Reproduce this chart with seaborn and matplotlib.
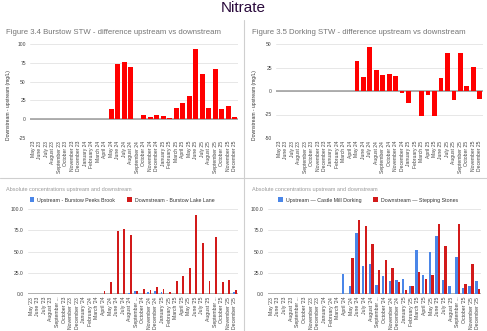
import numpy as np
import pandas as pd
import matplotlib
matplotlib.use("Agg")
import matplotlib.pyplot as plt
from matplotlib.lines import Line2D
from matplotlib.patches import Patch
import seaborn as sns

# ---- data -------------------------------------------------------------
months = [
    "May 23", "June 23", "July 23", "August 23", "September 23", "October 23",
    "November 23", "December 23", "January 24", "February 24", "March 24",
    "April 24", "May 24", "June 24", "July 24", "August 24", "September 24",
    "October 24", "November 24", "December 24", "January 25", "February 25",
    "March 25", "April 25", "May 25", "June 25", "July 25", "August 25",
    "September 25", "October 25", "November 25", "December 25",
]
# shortened tick labels used on the concentration panels
short_labels = [
    "May '23", "June '23", "July '23", "August '23", "September ...", "October '23",
    "November '23", "December '23", "January '24", "February '24", "March '24",
    "April '24", "May '24", "June '24", "July '24", "August '24", "September ...",
    "October '24", "November '24", "December '24", "January '25", "February '25",
    "March '25", "April '25", "May '25", "June '25", "July '25", "August '25",
    "September ...", "October '25", "November '25", "December '25",
]

NA = np.nan
no_data = [NA] * 12  # May '23 - April '24

# Burstow STW (mg/L)
burstow_diff = no_data + [14, 74, 76, 69, 0, 6, 2.5, 5, 4.5, 2,
                          15, 21, 30.5, 93, 59.5, 15.5, 66.5, 14, 17.5, 2.5]
burstow_up = [NA] * 12 + [0.5, 0.5, 0.5, 1.0, 3.0, 0.3, 2.0, 3.0, 1.8, 0.3,
                          0.3, 0.3, 0.3, 0.3, 0.3, 0.3, 0.3, 0.3, 0.3, 2.0]
burstow_down = [NA] * 11 + [4, 14.5, 74.5, 76.5, 70, 3, 5.5, 4.5, 8, 6, 2,
                            15, 21, 30.5, 93, 59.5, 15.5, 66.5, 14, 17, 4.5]

# Dorking STW (mg/L)
dorking_diff = no_data + [32, 14.5, 47, 22.5, 17, 18, 16, -2, -13, 0.5,
                          -27, -4.5, -27, 14, 40, -9.5, 40, 5, 25.5, -9]
dorking_up = [NA] * 11 + [24, 10, 72, 33, 35, 11, 21, 15, 16, 18, 9,
                          52, 22, 49.5, 68, 16, 10, 43, 6.5, 10, 15.5]
dorking_down = [NA] * 11 + [NA, 42, 87, 80.5, 58.5, 28, 39.5, 30.5, 14, 5, 9.5,
                            25.5, 18, 22.5, 82.5, 56, 0.5, 82.5, 11.5, 35.5, 6]

burstow_series = ["Upstream - Burstow Peeks Brook", "Downstream - Burstow Lake Lane"]
dorking_series = ["Upstream \u2014 Castle Mill Dorking", "Downstream \u2014 Stepping Stones"]

# ---- style ------------------------------------------------------------
sns.set_theme(style="white")
plt.rcParams["font.family"] = ["Liberation Sans", "DejaVu Sans"]

W, H = 487, 331
fig = plt.figure(figsize=(W / 100, H / 100), dpi=100)

GRID = "#e3e3e3"
BASE = "#9a9a9a"
TICK = "#444444"
UP_C = "#4a86e8"
DOWN_C = "#d21a1a"


def px_axes(x0, x1, ytop, ybot):
    return fig.add_axes([x0 / W, 1 - ybot / H, (x1 - x0) / W, (ybot - ytop) / H])


def style_axes(ax, yticks, ylabels, xlabels, xsize):
    ax.set_yticks(yticks)
    ax.set_yticklabels(ylabels)
    ax.set_xticks(range(len(xlabels)))
    ax.set_xticklabels(xlabels, rotation=90)
    ax.set_xlim(-0.5, len(xlabels) - 0.5)
    for t in yticks:
        ax.axhline(t, color=GRID, lw=0.6, zorder=0)
    ax.axhline(0, color=BASE, lw=1.1, zorder=0.5)
    for s in ax.spines.values():
        s.set_visible(False)
    ax.tick_params(axis="both", length=0, colors=TICK)
    ax.tick_params(axis="y", labelsize=3.6, pad=3)
    ax.tick_params(axis="x", labelsize=xsize, pad=2)
    ax.set_xlabel("")
    ax.set_ylabel("")
    ax.set_facecolor("none")


def diff_panel(ax, values, ylim, yticks):
    df = pd.DataFrame({"month": months, "diff": values})
    sns.barplot(data=df, x="month", y="diff", order=months, color="#ff0000",
                saturation=1, width=0.72, errorbar=None, ax=ax, zorder=2,
                linewidth=0, edgecolor="none")
    ax.set_ylim(*ylim)
    style_axes(ax, yticks, [str(t) for t in yticks], months, 3.6)


def abs_panel(ax, up, down, names, width, gap):
    df = pd.DataFrame({
        "month": months * 2,
        "value": list(up) + list(down),
        "series": [names[0]] * len(up) + [names[1]] * len(down),
    })
    sns.barplot(data=df, x="month", y="value", hue="series", order=months,
                hue_order=names, palette=[UP_C, DOWN_C], saturation=1,
                width=width, gap=gap, errorbar=None, ax=ax, zorder=2, legend=False,
                linewidth=0, edgecolor="none")
    ax.set_ylim(0, 100)
    ticks = [0, 25, 50, 75, 100]
    style_axes(ax, ticks, [f"{t:.1f}" for t in ticks], short_labels, 3.7)


# ---- panels -----------------------------------------------------------
ax1 = px_axes(30, 238, 44, 138)
diff_panel(ax1, burstow_diff, (-25, 100), [-25, 0, 25, 50, 75, 100])

ax2 = px_axes(276, 483, 44, 138)
diff_panel(ax2, dorking_diff, (-50, 50), [-50, -25, 0, 25, 50])

ax3 = px_axes(28, 238, 209, 294)
abs_panel(ax3, burstow_up, burstow_down, burstow_series, 0.62, 0.1)

ax4 = px_axes(268, 481, 209, 294)
abs_panel(ax4, dorking_up, dorking_down, dorking_series, 0.8, 0.08)

# ---- text -------------------------------------------------------------
fig.text(243 / W, 1 - 8.5 / H, "Nitrate", ha="center", va="center",
         fontsize=11, color="#2a0a3c")

fig.text(6 / W, 1 - 32 / H, "Figure 3.4 Burstow STW - difference upstream vs downstream",
         ha="left", va="center", fontsize=5.6, color="#757575")
fig.text(252 / W, 1 - 32 / H, "Figure 3.5 Dorking STW - difference upstream vs downstream",
         ha="left", va="center", fontsize=5.6, color="#757575")

for x in (8.5, 254.5):
    fig.text(x / W, 1 - 105 / H, "Downstream - upstream (mg/L)", rotation=90,
             ha="center", va="center", fontsize=3.6, color="#333333")

fig.text(6 / W, 1 - 190 / H, "Absolute concentrations upstream and downstream",
         ha="left", va="center", fontsize=4.0, color="#9a9a9a")
fig.text(252 / W, 1 - 190 / H, "Absolute concentrations upstream and downstream",
         ha="left", va="center", fontsize=4.0, color="#9a9a9a")

for cx, names in ((122, burstow_series), (368, dorking_series)):
    handles = [Patch(facecolor=UP_C, edgecolor="none"),
               Patch(facecolor=DOWN_C, edgecolor="none")]
    fig.legend(handles, names, loc="center", bbox_to_anchor=(cx / W, 1 - 200 / H),
               ncol=2, frameon=False, fontsize=3.8, handlelength=0.9,
               handleheight=0.9, handletextpad=0.6, columnspacing=2.2,
               labelcolor="#333333", borderaxespad=0, borderpad=0)

# panel dividers
fig.add_artist(Line2D([244 / W, 244 / W], [1 - 20 / H, 0], color="#cfcfcf", lw=0.8))
fig.add_artist(Line2D([0, 1], [1 - 178 / H, 1 - 178 / H], color="#cfcfcf", lw=0.8))

fig.savefig("out.png", dpi=100, facecolor="white")
